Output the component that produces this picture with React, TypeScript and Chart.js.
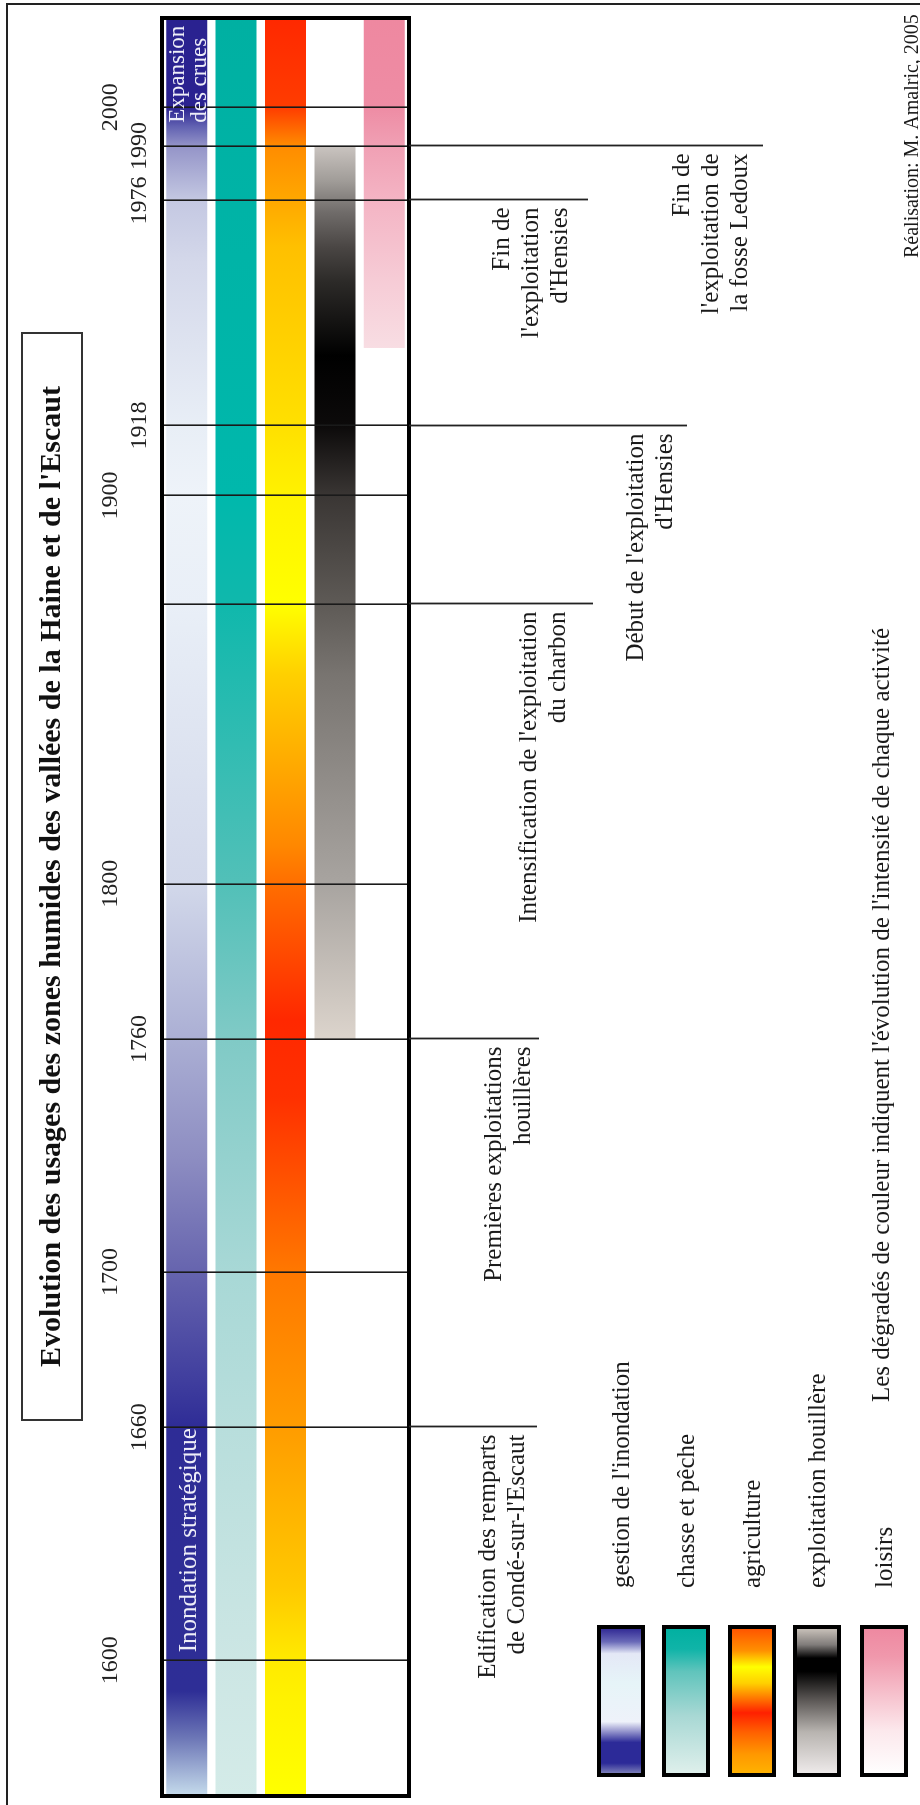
import React, { useEffect, useRef } from "react";
import { Chart, registerables } from "chart.js";

Chart.register(...registerables);

const FAMILY = "'Liberation Serif', 'Times New Roman', Times, serif";

// ---------------- data ----------------
const TITLE = "Evolution des usages des zones humides des vallées de la Haine et de l'Escaut";
const ACTIVITIES = [
  "gestion de l'inondation",
  "chasse et pêche",
  "agriculture",
  "exploitation houillère",
  "loisirs",
];
const AXIS_MIN = 1565;
const AXIS_MAX = 2023;
const ACTIVITY_START = [AXIS_MIN, AXIS_MIN, AXIS_MIN, 1760, 1938];
const ACTIVITY_END = [AXIS_MAX, AXIS_MAX, AXIS_MAX, 1990, AXIS_MAX];

const TICK_YEARS = [1600, 1660, 1700, 1760, 1800, 1872, 1900, 1918, 1976, 1990, 2000];
const OUTER_ROW_YEARS = [1600, 1700, 1800, 1900, 2000];
const INNER_ROW_YEARS = [1660, 1760, 1918, 1976, 1990];

const EVENT_YEARS = [1660, 1760, 1872, 1918, 1976, 1990];
const EVENT_LABELS = [
  ["Edification des remparts", "de Condé-sur-l'Escaut"],
  ["Premières exploitations", "houillères"],
  ["Intensification de l'exploitation", "du charbon"],
  ["Début de l'exploitation", "d'Hensies"],
  ["Fin de", "l'exploitation", "d'Hensies"],
  ["Fin de", "l'exploitation de", "la fosse Ledoux"],
];

const BAR_NOTE_YEARS = [1602, 1996];
const BAR_NOTE_LABELS = [["Inondation stratégique"], ["Expansion", "des crues"]];

const FOOTNOTE = "Les dégradés de couleur indiquent l'évolution de l'intensité de chaque activité";
const CREDIT = "Réalisation: M. Amalric, 2005";

// intensity colour stops along the years (one small list per activity)
const GESTION_STOPS: [number, string][] = [
  [1565, "#c6dcec"], [1580, "#6c76b6"], [1592, "#2e2e96"], [1660, "#2e2c96"],
  [1672, "#403e9e"], [1700, "#6664ae"], [1730, "#8e8ec2"], [1760, "#abafd4"],
  [1800, "#d2d8ea"], [1872, "#e9eff7"], [1900, "#eef3f9"], [1918, "#e8eef6"],
  [1960, "#d4d8ea"], [1976, "#c4c8e2"], [1990, "#9494c8"], [1995, "#6262b2"],
  [2000, "#2a2290"], [2023, "#2a2290"],
];
const CHASSE_STOPS: [number, string][] = [
  [1565, "#d4ebe8"], [1600, "#cce6e4"], [1660, "#b8dedc"], [1700, "#a8d8d6"],
  [1760, "#80cac6"], [1800, "#52c0b8"], [1872, "#10b8ac"], [1900, "#00b8ac"],
  [2023, "#00b0a2"],
];
const AGRI_STOPS: [number, string][] = [
  [1565, "#ffff00"], [1590, "#fff200"], [1600, "#ffea00"], [1619, "#ffc800"],
  [1642, "#ffb000"], [1660, "#ff9c00"], [1700, "#ff7800"], [1745, "#ff3000"],
  [1765, "#ff2800"], [1800, "#ff6e00"], [1810, "#ff8800"], [1854, "#ffd000"],
  [1872, "#ffff00"], [1900, "#fff200"], [1918, "#ffe000"], [1964, "#ffc000"],
  [1976, "#ffa800"], [1990, "#ff8c00"], [2000, "#ff3c00"], [2023, "#ff2800"],
];
const HOUILLE_STOPS: [number, string][] = [
  [1760, "#dcd4cc"], [1800, "#a8a4a0"], [1854, "#787470"], [1872, "#5e5a56"],
  [1900, "#3a3634"], [1918, "#0c0a0a"], [1936, "#000000"], [1955, "#2c2a28"],
  [1964, "#4a4644"], [1973, "#706c6a"], [1981, "#a09c98"], [1990, "#cac4c0"],
];
const LOISIRS_STOPS: [number, string][] = [
  [1938, "#f8dde3"], [1955, "#f6ccd6"], [1976, "#f4b4c4"], [1990, "#f0a0b4"],
  [2000, "#ee8ca4"], [2023, "#ee88a0"],
];
const INTENSITY = [GESTION_STOPS, CHASSE_STOPS, AGRI_STOPS, HOUILLE_STOPS, LOISIRS_STOPS];

// legend swatch gradients (0 = weak side .. 1)
const LEGEND_STOPS: [number, string][][] = [
  [[0, "#8a8ebe"], [0.08, "#2c2a98"], [0.22, "#2c2a98"], [0.3, "#9c9cd0"], [0.36, "#eef2fa"],
   [0.62, "#e6f4f8"], [0.82, "#e4e8f6"], [0.9, "#6a6ab8"], [1, "#2a2290"]],
  [[0, "#e0f0ec"], [0.4, "#a8d8d4"], [0.7, "#60c4bc"], [0.85, "#10b4a8"], [1, "#00b0a0"]],
  [[0, "#ffb400"], [0.14, "#ff9800"], [0.29, "#ff6000"], [0.42, "#ff2000"], [0.51, "#ff7000"],
   [0.62, "#ffd000"], [0.73, "#ffff00"], [0.84, "#ff9000"], [1, "#ff5000"]],
  [[0, "#f0ecec"], [0.29, "#b8b4b0"], [0.51, "#5a5654"], [0.7, "#000000"], [0.79, "#000000"],
   [0.88, "#807c7a"], [1, "#d0c8c0"]],
  [[0, "#ffffff"], [0.3, "#fce8ec"], [0.55, "#f6c0cc"], [0.8, "#f098ac"], [1, "#ee88a0"]],
];

// ---------------- layout / style ----------------
const EVENT_LAYOUT = [
  { y: 488, end: 537 },
  { y: 494, end: 539 },
  { y: 529, end: 593 },
  { y: 636, end: 687 },
  { y: 502, end: 588 },
  { y: 682, end: 763 },
];
const LEGEND_Y = [621, 686, 752, 817, 884];

function text(
  ctx: CanvasRenderingContext2D,
  s: string,
  x: number,
  y: number,
  size: number,
  align: CanvasTextAlign = "left",
  weight = "normal",
  color = "#1a1a1a"
) {
  ctx.font = `${weight} ${size}px ${FAMILY}`;
  ctx.textAlign = align;
  ctx.textBaseline = "middle";
  ctx.fillStyle = color;
  ctx.fillText(s, x, y);
}

function makeGradient(chart: any, stops: [number, string][]) {
  const xs = chart.scales?.x;
  if (!xs || !chart.chartArea) return "rgba(0,0,0,0)";
  const x0 = xs.getPixelForValue(AXIS_MIN);
  const x1 = xs.getPixelForValue(AXIS_MAX);
  const g = chart.ctx.createLinearGradient(x0, 0, x1, 0);
  stops.forEach(([yr, c]) => {
    const t = (xs.getPixelForValue(yr) - x0) / (x1 - x0);
    g.addColorStop(Math.min(1, Math.max(0, t)), c);
  });
  return g;
}

const decor = {
  id: "decor",
  beforeDraw(chart: any) {
    const { ctx, width, height } = chart;
    ctx.save();
    ctx.fillStyle = "#ffffff";
    ctx.fillRect(0, 0, width, height);
    ctx.restore();
  },
  afterDraw(chart: any) {
    const { ctx, chartArea: a } = chart;
    const xs = chart.scales.x;
    const ys = chart.scales.y;
    ctx.save();

    // white notes inside the flood-management bar
    const rowY = ys.getPixelForValue(0);
    text(ctx, BAR_NOTE_LABELS[0][0], xs.getPixelForValue(BAR_NOTE_YEARS[0]), rowY + 3, 25, "left", "normal", "#eeeef8");
    BAR_NOTE_LABELS[1].forEach((s, j) => {
      text(ctx, s, xs.getPixelForValue(BAR_NOTE_YEARS[1]), rowY - 9 + j * 22, 23, "left", "normal", "#eeeef8");
    });

    // main frame
    ctx.strokeStyle = "#000";
    ctx.lineWidth = 4;
    ctx.strokeRect(a.left, a.top, a.right - a.left, a.bottom - a.top);

    // outer border
    ctx.lineWidth = 2;
    ctx.strokeStyle = "#222";
    ctx.beginPath();
    ctx.moveTo(0, 7);
    ctx.lineTo(1801, 7);
    ctx.lineTo(1801, 920);
    ctx.stroke();

    // title box
    ctx.lineWidth = 2;
    ctx.strokeStyle = "#333";
    ctx.strokeRect(385, 22, 1087, 60);
    text(ctx, TITLE, 928.5, 52, 30, "center", "bold", "#111");

    // events
    EVENT_YEARS.forEach((yr, i) => {
      const px = Math.round(xs.getPixelForValue(yr)) + 0.5;
      const L = EVENT_LAYOUT[i];
      ctx.strokeStyle = "#222";
      ctx.lineWidth = 1.8;
      ctx.beginPath();
      ctx.moveTo(px, a.bottom);
      ctx.lineTo(px, L.end);
      ctx.stroke();
      EVENT_LABELS[i].forEach((s, j) => text(ctx, s, px - 8, L.y + j * 29, 25, "right"));
    });

    // legend
    ACTIVITIES.forEach((name, i) => {
      const cy = LEGEND_Y[i];
      const top = cy - 22;
      const g = ctx.createLinearGradient(30, 0, 178, 0);
      LEGEND_STOPS[i].forEach(([t, c]) => g.addColorStop(t, c));
      ctx.fillStyle = g;
      ctx.fillRect(30, top, 148, 44);
      ctx.lineWidth = 4;
      ctx.strokeStyle = "#000";
      ctx.strokeRect(30, top, 148, 44);
      text(ctx, name, 217, cy + 1, 25, "left");
    });

    text(ctx, FOOTNOTE, 403, 882, 25, "left");
    text(ctx, CREDIT, 1547, 913, 20, "left");

    ctx.restore();
  },
};

export default function App() {
  const ref = useRef<HTMLCanvasElement | null>(null);

  useEffect(() => {
    if (!ref.current) return;
    const chart = new Chart(ref.current, {
      type: "bar",
      data: {
        labels: ACTIVITIES,
        datasets: [
          {
            data: ACTIVITIES.map((_, i) => [ACTIVITY_START[i], ACTIVITY_END[i]]) as any,
            backgroundColor: (c: any) => makeGradient(c.chart, INTENSITY[c.dataIndex]),
            borderWidth: 0,
            borderSkipped: false,
            barPercentage: 0.83,
            categoryPercentage: 1,
          },
        ],
      },
      options: {
        animation: false,
        responsive: false,
        events: [],
        indexAxis: "y",
        layout: { padding: { left: 9, right: 18, top: 0, bottom: 511 } },
        plugins: {
          legend: { display: false },
          tooltip: { enabled: false },
          title: { display: false },
        },
        scales: {
          x: {
            type: "linear",
            position: "top",
            min: AXIS_MIN,
            max: AXIS_MAX,
            afterBuildTicks: (s: any) => {
              s.ticks = TICK_YEARS.map((v) => ({ value: v }));
            },
            afterFit: (s: any) => {
              s.height = 162;
            },
            grid: { color: "#1a1a1a", lineWidth: 1.6, drawTicks: false, z: 1 },
            border: { display: false },
            ticks: {
              autoSkip: false,
              maxRotation: 0,
              minRotation: 0,
              padding: 8,
              color: "#222",
              font: { family: FAMILY, size: 24 },
              callback: (v: any) =>
                OUTER_ROW_YEARS.includes(v)
                  ? [String(v), ""]
                  : INNER_ROW_YEARS.includes(v)
                  ? String(v)
                  : "",
            },
          },
          y: { display: false, grid: { display: false } },
        },
      } as any,
      plugins: [decor],
    });
    return () => chart.destroy();
  }, []);

  return (
    <div
      style={{
        position: "fixed",
        left: 0,
        top: 0,
        width: 920,
        height: 1805,
        overflow: "hidden",
        background: "#ffffff",
      }}
    >
      <div
        style={{
          position: "absolute",
          left: 0,
          top: 0,
          width: 1805,
          height: 920,
          transformOrigin: "0 0",
          transform: "translateY(1805px) rotate(-90deg)",
        }}
      >
        <canvas ref={ref} width={1805} height={920} style={{ display: "block", width: 1805, height: 920 }} />
      </div>
    </div>
  );
}
